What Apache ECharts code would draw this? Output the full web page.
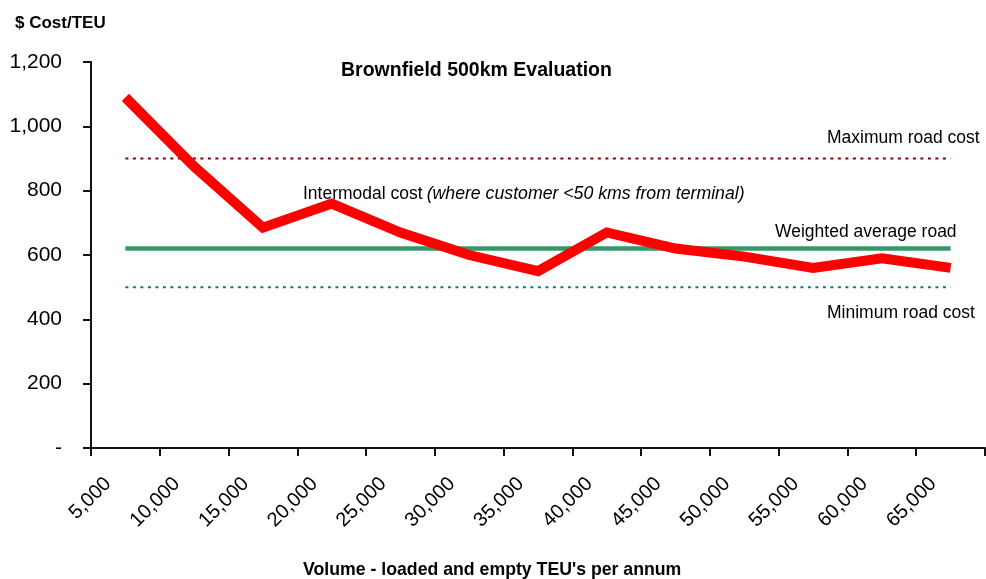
<!DOCTYPE html>
<html>
<head>
<meta charset="utf-8">
<script src="https://cdn.jsdelivr.net/npm/echarts@6/dist/echarts.min.js"></script>
<style>
  html, body { margin: 0; padding: 0; background: #fff; }
  #chart { width: 986px; height: 579px; }
</style>
</head>
<body>
<div id="chart"></div>
<script>
// Annual volume bands (TEU per annum)
const volumeLabels = ['5,000', '10,000', '15,000', '20,000', '25,000', '30,000', '35,000',
  '40,000', '45,000', '50,000', '55,000', '60,000', '65,000'];

// Intermodal cost per TEU for each volume band
const intermodalCost = [1090, 875, 685, 760, 670, 600, 550, 670, 620, 595, 560, 590, 560];

// Road cost benchmarks, flat across all volumes
const maximumRoadCost = [900, 900, 900, 900, 900, 900, 900, 900, 900, 900, 900, 900, 900];
const weightedAverageRoad = [620, 620, 620, 620, 620, 620, 620, 620, 620, 620, 620, 620, 620];
const minimumRoadCost = [500, 500, 500, 500, 500, 500, 500, 500, 500, 500, 500, 500, 500];

// Cost axis ticks
const costTicks = { min: 0, max: 1200, step: 200 };

const FONT = '"Liberation Sans", Arial, sans-serif';

const chart = echarts.init(document.getElementById('chart'), null, { renderer: 'canvas' });

function costLabel(v) {
  if (v === 0) return '-';
  return v.toLocaleString('en-US');
}

chart.setOption({
  animation: false,
  backgroundColor: '#ffffff',
  title: [
    {
      text: '$ Cost/TEU', left: 10, top: 10,
      textStyle: { fontFamily: FONT, fontSize: 17, fontWeight: 'bold', color: '#000' }
    },
    {
      text: 'Brownfield 500km Evaluation', left: 336, top: 56,
      textStyle: { fontFamily: FONT, fontSize: 19.5, fontWeight: 'bold', color: '#000' }
    },
    {
      text: "Volume - loaded and empty TEU's per annum", left: 298, top: 556,
      textStyle: { fontFamily: FONT, fontSize: 17.7, fontWeight: 'bold', color: '#000' }
    }
  ],
  grid: { left: 91, right: 1, top: 62, bottom: 131, containLabel: false, outerBoundsMode: 'none' },
  xAxis: {
    type: 'category',
    data: volumeLabels,
    boundaryGap: true,
    axisLine: { lineStyle: { color: '#111', width: 2 } },
    axisTick: { show: true, length: 8, lineStyle: { color: '#111', width: 2 } },
    axisLabel: {
      interval: 0,
      rotate: 45,
      margin: 50,
      verticalAlign: 'bottom',
      lineHeight: 49,
      fontFamily: FONT,
      fontSize: 20,
      color: '#000'
    },
    splitLine: { show: false }
  },
  yAxis: {
    type: 'value',
    min: costTicks.min,
    max: costTicks.max,
    interval: costTicks.step,
    axisLine: { show: true, lineStyle: { color: '#111', width: 2 } },
    axisTick: { show: true, length: 8, lineStyle: { color: '#111', width: 2 } },
    axisLabel: {
      margin: 29,
      fontFamily: FONT,
      fontSize: 21,
      color: '#000',
      formatter: costLabel
    },
    splitLine: { show: false }
  },
  graphic: [
    {
      type: 'text', left: 827, top: 129,
      style: { text: 'Maximum road cost', font: '17.5px ' + FONT, fill: '#000' }
    },
    {
      type: 'text', left: 775, top: 223,
      style: { text: 'Weighted average road', font: '17.5px ' + FONT, fill: '#000' }
    },
    {
      type: 'text', left: 827, top: 304,
      style: { text: 'Minimum road cost', font: '17.5px ' + FONT, fill: '#000' }
    },
    {
      type: 'text', left: 303, top: 185,
      style: {
        text: '{a|Intermodal cost}{b|(where customer <50 kms from terminal)}',
        rich: {
          a: { fontFamily: FONT, fontSize: 17.5, color: '#000', padding: [0, 4, 0, 0] },
          b: { fontFamily: FONT, fontSize: 17.7, fontStyle: 'italic', color: '#000' }
        }
      }
    }
  ],
  series: [
    {
      name: 'Maximum road cost', type: 'line', data: maximumRoadCost,
      symbol: 'none', silent: true,
      lineStyle: { color: '#800000', width: 2, type: [3, 4.5] }
    },
    {
      name: 'Minimum road cost', type: 'line', data: minimumRoadCost,
      symbol: 'none', silent: true,
      lineStyle: { color: '#008080', width: 2, type: [3, 4.5] }
    },
    {
      name: 'Weighted average road', type: 'line', data: weightedAverageRoad,
      symbol: 'none', silent: true,
      lineStyle: { color: '#339966', width: 4.5 }
    },
    {
      name: 'Intermodal cost', type: 'line', data: intermodalCost,
      symbol: 'none', silent: true,
      lineStyle: { color: '#ff0000', width: 10, join: 'miter', cap: 'butt' }
    }
  ]
});
</script>
</body>
</html>
